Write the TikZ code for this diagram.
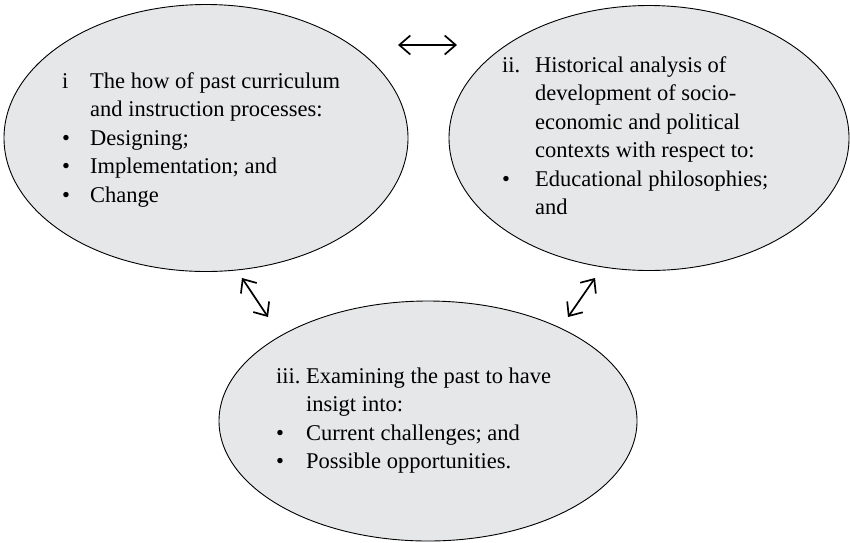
\documentclass[tikz,border=0pt]{standalone}
\usepackage{fontspec}
\setmainfont{Liberation Serif}
\usepackage{xcolor}
\usetikzlibrary{arrows.meta, positioning, shapes.geometric}
\definecolor{bubble}{HTML}{E6E7E8}
\tikzset{
	theme/.style={ellipse, draw=black, line width=0.9pt, fill=bubble, inner sep=0pt},
	txt/.style={anchor=base west, inner sep=0pt, font=\fontsize{22.5}{28.5}\selectfont},
	link/.style={{Straight Barb[length=11pt,width=19pt]}-{Straight Barb[length=11pt,width=19pt]}, line width=1.7pt},
}
\newcommand{\pts}[2]{\begin{tabular}[t]{@{}p{#1}@{}l@{}}#2\end{tabular}}

\begin{document}
\begin{tikzpicture}[x=1pt, y=-1pt]
	\useasboundingbox (0,0) rectangle (850,542);
	% the three themes
	\node[theme, minimum width=404pt, minimum height=267pt] (past) at (206,138) {};
	\node[theme, minimum width=400pt, minimum height=265pt] (context) at (649,138) {};
	\node[theme, minimum width=418pt, minimum height=240pt] (insight) at (428,421) {};
	\node[txt] (pasttxt) at (62,88) {\pts{28pt}{%
		i & The how of past curriculum\\
		& and instruction processes:\\
		\textbullet & Designing;\\
		\textbullet & Implementation; and\\
		\textbullet & Change}};
	\node[txt] (contexttxt) at (502,72) {\pts{33pt}{%
		ii. & Historical analysis of\\
		& development of socio-\\
		& economic and political\\
		& contexts with respect to:\\
		\textbullet & Educational philosophies;\\
		& and}};
	\node[txt] (insighttxt) at (276,383) {\pts{30pt}{%
		iii. & Examining the past to have\\
		& insigt into:\\
		\textbullet & Current challenges; and\\
		\textbullet & Possible opportunities.}};
	% links between them
	\coordinate (tA) at (398,45);  \coordinate (tB) at (457,45);
	\coordinate (lA) at (242,278); \coordinate (lB) at (268,317);
	\coordinate (rA) at (595,278); \coordinate (rB) at (568,317);
	\draw[link] (tA) -- (tB);
	\draw[link] (lA) -- (lB);
	\draw[link] (rA) -- (rB);
\end{tikzpicture}
\end{document}
